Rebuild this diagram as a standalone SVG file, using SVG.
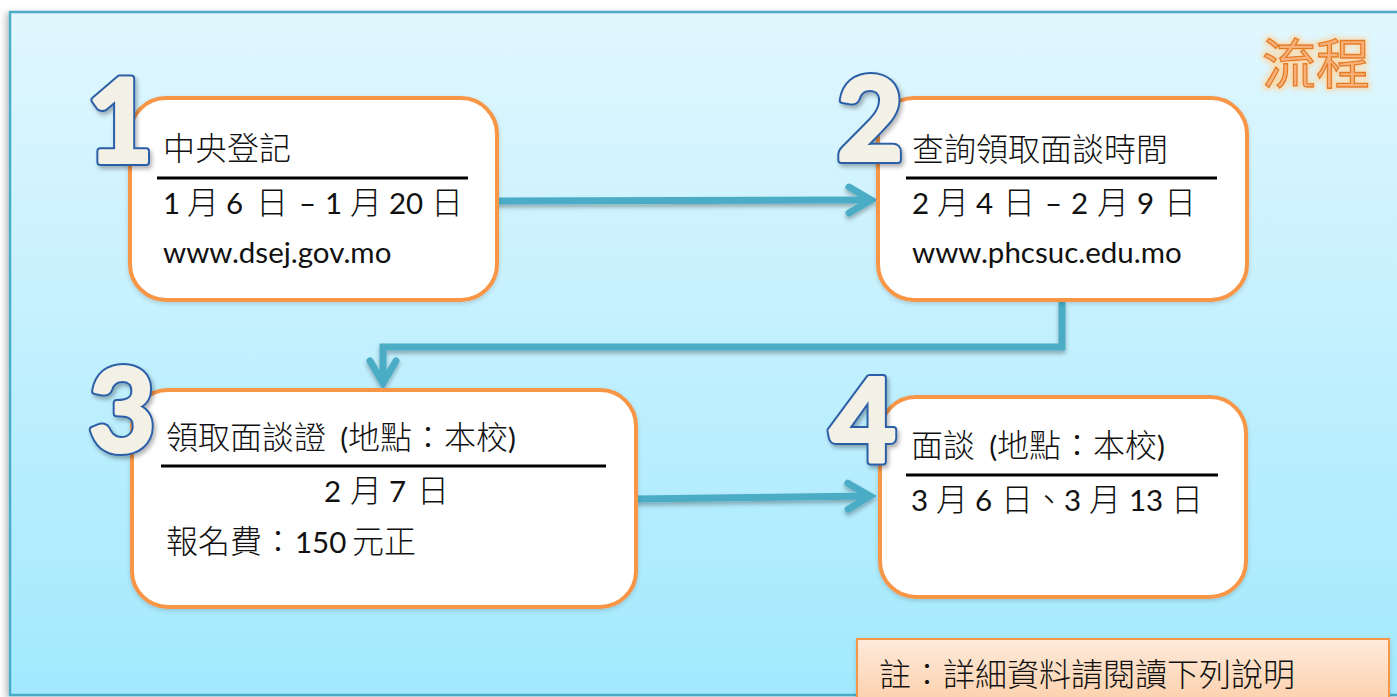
<svg xmlns="http://www.w3.org/2000/svg" width="1397" height="697" viewBox="0 0 1397 697">
  <defs>
    <linearGradient id="bg" x1="0" y1="0" x2="0" y2="1">
      <stop offset="0" stop-color="#E1F7FE"/>
      <stop offset="1" stop-color="#A2E9FE"/>
    </linearGradient>
    <linearGradient id="noteFill" x1="0" y1="0" x2="0" y2="1">
      <stop offset="0" stop-color="#FEEADB"/>
      <stop offset="1" stop-color="#FBC697"/>
    </linearGradient>
    <filter id="frameShadow" x="-5%" y="-5%" width="110%" height="110%">
      <feDropShadow dx="-3" dy="2" stdDeviation="3" flood-color="#000" flood-opacity="0.25"/>
    </filter>
    <filter id="arrowShadow" x="-10%" y="-50%" width="120%" height="200%">
      <feDropShadow dx="0" dy="3" stdDeviation="2" flood-color="#000" flood-opacity="0.3"/>
    </filter>
    <filter id="boxShadow" x="-10%" y="-10%" width="120%" height="120%">
      <feDropShadow dx="0" dy="2" stdDeviation="2" flood-color="#000" flood-opacity="0.15"/>
    </filter>
    <filter id="digitShadow" x="-30%" y="-30%" width="160%" height="160%">
      <feDropShadow dx="2" dy="3" stdDeviation="2" flood-color="#000" flood-opacity="0.3"/>
    </filter>
    <filter id="glow" x="-20%" y="-30%" width="140%" height="160%">
      <feMorphology in="SourceAlpha" operator="dilate" radius="2" result="d"/>
      <feGaussianBlur in="d" stdDeviation="2.5" result="b"/>
      <feFlood flood-color="#FCD9A8" flood-opacity="0.9"/>
      <feComposite in2="b" operator="in" result="g"/>
      <feMerge>
        <feMergeNode in="g"/>
        <feMergeNode in="SourceGraphic"/>
      </feMerge>
    </filter>
    <marker id="chev" markerUnits="userSpaceOnUse" orient="auto" overflow="visible" markerWidth="1" markerHeight="1" refX="0" refY="0">
      <path d="M-21,-13 L1,0 L-21,13" fill="none" stroke="#4BACC6" stroke-width="7" stroke-linecap="round" stroke-linejoin="miter"/>
    </marker>
    <style>
      .box { fill: #FFFFFF; stroke: #F79646; stroke-width: 4; }
      .rule { stroke: #000; stroke-width: 3; }
      .t { font-family: "Noto Sans CJK TC", sans-serif; font-size: 32px; font-weight: 300; fill: #111; }
      .lat { font-family: Lato, "Noto Sans CJK TC", sans-serif; font-size: 29.5px; font-weight: 400; }
      .num { font-family: Lato, "Open Sans", sans-serif; font-weight: 700; font-size: 114px; text-anchor: middle; stroke-linejoin: round; }
      .numO { fill: #2B5FA8; stroke: #2B5FA8; stroke-width: 8; }
      .numI { fill: #F3F0E5; stroke: #F3F0E5; stroke-width: 4; }
      .conn { fill: none; stroke: #4BACC6; stroke-width: 7; marker-end: url(#chev); }
    </style>
  </defs>

  <g id="frame">
    <rect x="10" y="12" width="1400" height="683" fill="url(#bg)" stroke="#4BACC6" stroke-width="2.5" filter="url(#frameShadow)"/>
  </g>

  <g id="title">
    <text x="1262" y="84" font-family="'Noto Sans CJK TC', sans-serif" font-size="54" fill="#F9B17C" stroke="#E47B22" stroke-width="1.3" filter="url(#glow)">流程</text>
  </g>

  <g id="connectors" filter="url(#arrowShadow)">
    <path class="conn" d="M497,201 L870,200"/>
    <path class="conn" d="M1062,302 V347 H383 V382"/>
    <path class="conn" d="M636,499 L869,496"/>
  </g>

  <g id="node1">
    <rect class="box" x="130" y="98" width="367" height="202" rx="36" filter="url(#boxShadow)"/>
    <text class="t" x="163" y="160">中央登記</text>
    <line class="rule" x1="157" y1="178" x2="468" y2="178"/>
    <text class="t" y="214"><tspan class="lat" x="163">1</tspan><tspan x="187">月</tspan><tspan class="lat" x="226">6</tspan><tspan x="256">日</tspan><tspan class="lat" x="299">–</tspan><tspan class="lat" x="325">1</tspan><tspan x="350">月</tspan><tspan class="lat" x="389">20</tspan><tspan x="431">日</tspan></text>
    <text class="t lat" x="163" y="263">www.dsej.gov.mo</text>
    <g filter="url(#digitShadow)">
      <text class="num numO" x="120" y="162">1</text>
      <text class="num numI" x="120" y="162">1</text>
    </g>
  </g>

  <g id="node2">
    <rect class="box" x="878" y="98" width="369" height="202" rx="36" filter="url(#boxShadow)"/>
    <text class="t" x="912" y="161">查詢領取面談時間</text>
    <line class="rule" x1="906" y1="178" x2="1217" y2="178"/>
    <text class="t" y="214"><tspan class="lat" x="912">2</tspan><tspan x="937">月</tspan><tspan class="lat" x="976">4</tspan><tspan x="1003">日</tspan><tspan class="lat" x="1045">–</tspan><tspan class="lat" x="1071">2</tspan><tspan x="1097">月</tspan><tspan class="lat" x="1137">9</tspan><tspan x="1164">日</tspan></text>
    <text class="t lat" x="912" y="263">www.phcsuc.edu.mo</text>
    <g filter="url(#digitShadow)">
      <text class="num numO" x="870" y="160">2</text>
      <text class="num numI" x="870" y="160">2</text>
    </g>
  </g>

  <g id="node3">
    <rect class="box" x="132" y="390" width="504" height="217" rx="36" filter="url(#boxShadow)"/>
    <text class="t" x="166" y="449" xml:space="preserve">領取面談證  <tspan class="lat" font-size="32">(</tspan>地點：本校<tspan class="lat" font-size="32">)</tspan></text>
    <line class="rule" x1="161" y1="466" x2="606" y2="466"/>
    <text class="t" y="502"><tspan class="lat" x="324">2</tspan><tspan x="350">月</tspan><tspan class="lat" x="389">7</tspan><tspan x="417">日</tspan></text>
    <text class="t" y="553"><tspan x="166">報名費：</tspan><tspan class="lat" x="295">150</tspan><tspan x="352">元正</tspan></text>
    <g filter="url(#digitShadow)">
      <text class="num numO" x="122" y="451">3</text>
      <text class="num numI" x="122" y="451">3</text>
    </g>
  </g>

  <g id="node4">
    <rect class="box" x="880" y="397" width="366" height="200" rx="36" filter="url(#boxShadow)"/>
    <text class="t" x="911" y="457" xml:space="preserve">面談  <tspan class="lat" font-size="32">(</tspan>地點：本校<tspan class="lat" font-size="32">)</tspan></text>
    <line class="rule" x1="906" y1="475" x2="1218" y2="475"/>
    <text class="t" y="511"><tspan class="lat" x="911">3</tspan><tspan x="936">月</tspan><tspan class="lat" x="975">6</tspan><tspan x="1001">日</tspan><tspan x="1033">、</tspan><tspan class="lat" x="1064">3</tspan><tspan x="1089">月</tspan><tspan class="lat" x="1129">13</tspan><tspan x="1171">日</tspan></text>
    <g filter="url(#digitShadow)">
      <text class="num numO" x="863" y="461">4</text>
      <text class="num numI" x="863" y="461">4</text>
    </g>
  </g>

  <g id="note">
    <rect x="857" y="639" width="532" height="90" fill="url(#noteFill)" stroke="#F79646" stroke-width="2" filter="url(#boxShadow)"/>
    <text class="t" x="879" y="686">註：詳細資料請閱讀下列說明</text>
  </g>
</svg>
